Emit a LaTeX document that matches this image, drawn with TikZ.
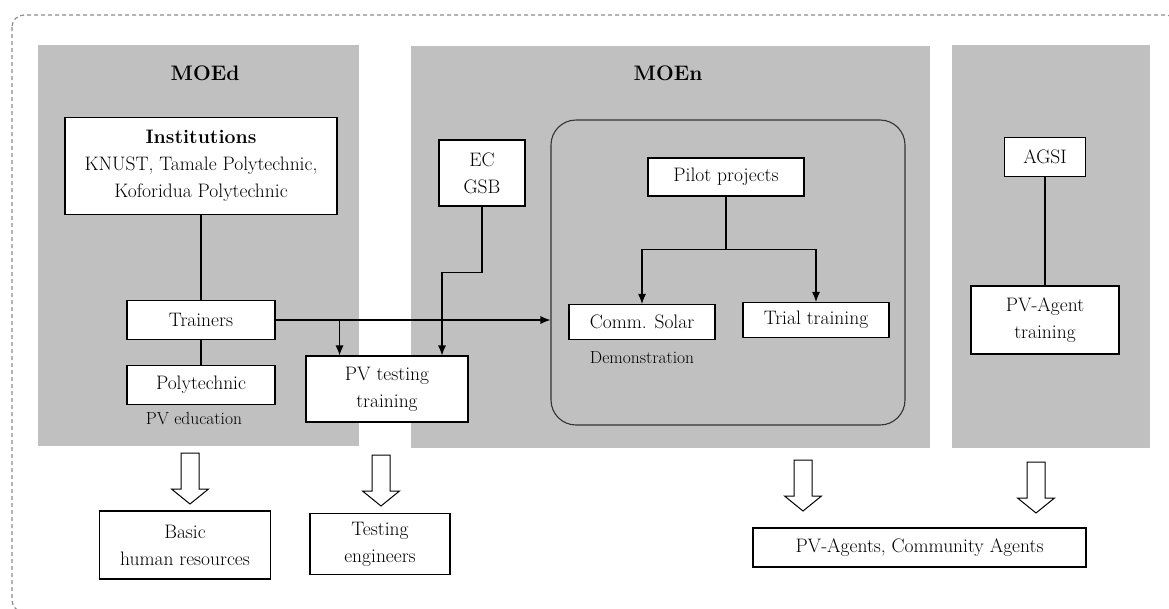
\documentclass[tikz,border=0pt]{standalone}
\usetikzlibrary{arrows.meta,positioning}
\definecolor{panelgray}{RGB}{192,192,192}
\tikzset{
  box/.style={draw, fill=white, line width=1.1pt, align=center, inner sep=0pt, font=\fontsize{19.5}{27}\selectfont},
  note/.style={inner sep=0pt, font=\fontsize{17.5}{20}\selectfont},
  paneltitle/.style={font=\fontsize{21}{25}\selectfont\bfseries},
  link/.style={line width=1.1pt},
  arr/.style={line width=1.1pt, -{Latex[length=10pt,width=8pt]}},
  hollow/.pic={\draw[line width=1pt, fill=white] (0,0) -- (18.5,-15) -- (9,-15) -- (9,-51) -- (-9,-51) -- (-9,-15) -- (-18.5,-15) -- cycle;}
}
\begin{document}
\begin{tikzpicture}[x=1pt,y=-1pt]
  \useasboundingbox (0,0) rectangle (1169,608);
  \clip (0,0) rectangle (1169,608);
  % 外框
  \draw[gray!90, line width=1.2pt, dash pattern=on 4pt off 3pt, rounded corners=12pt] (12,15) rectangle (1178,612);

  % 背景
  \fill[panelgray] (38,45) rectangle (359,446);
  \fill[panelgray] (411,46) rectangle (930,448);
  \fill[panelgray] (952,45) rectangle (1150,448);
  \node[paneltitle] (moed) at (205,73) {MOEd};
  \node[paneltitle] (moen) at (668,73) {MOEn};
  \node[draw=black!80, line width=1.1pt, rounded corners=25pt, minimum width=354pt, minimum height=305pt, inner sep=0pt] (pilotbox) at (728,272.5) {};

  % 节点
  \node[box, minimum width=272pt, minimum height=97pt] (inst) at (201,166) {\textbf{Institutions}\\KNUST, Tamale Polytechnic,\\Koforidua Polytechnic};
  \node[box, minimum width=148pt, minimum height=39pt] (trainers) at (201,320) {Trainers};
  \node[box, minimum width=148pt, minimum height=39pt, below=25pt of trainers] (poly) {Polytechnic};
  \node[note, below=7pt of poly, xshift=-7pt] (pvedu) {PV education};
  \node[box, minimum width=162pt, minimum height=66pt] (test) at (387,389) {PV testing\\training};
  \node[box, minimum width=86pt, minimum height=66pt] (ec) at (482,173) {EC\\GSB};
  \node[box, minimum width=156pt, minimum height=38pt] (pilot) at (726,177) {Pilot projects};
  \node[box, minimum width=146pt, minimum height=35pt] (comm) at (642,322) {Comm. Solar};
  \node[note, below=11pt of comm] (demo) {Demonstration};
  \node[box, minimum width=146pt, minimum height=35pt] (trial) at (816,320) {Trial training};
  \node[box, minimum width=81pt, minimum height=39pt] (agsi) at (1045,157) {AGSI};
  \node[box, minimum width=148pt, minimum height=68pt] (pvagent) at (1045,320) {PV-Agent\\training};
  \node[box, minimum width=171pt, minimum height=68pt] (basic) at (185,545) {Basic\\human resources};
  \node[box, minimum width=140pt, minimum height=61pt] (testeng) at (380,544) {Testing\\engineers};
  \node[box, minimum width=333pt, minimum height=39pt] (agents) at (919.5,547.5) {PV-Agents, Community Agents};

  % 连线
  \draw[link] (inst) -- (trainers);
  \draw[link] (trainers) -- (poly);
  \draw[arr] (trainers.east) -- (trainers.east -| pilotbox.west);
  \coordinate (split) at ([xshift=64pt]trainers.east);
  \draw[arr] (split) -- (split |- test.north);
  \draw[arr] (ec.south) -- ++(0,66) -| ([xshift=55pt]test.north);
  \draw[arr] (pilot.south) -- ++(0,53) -| (comm.north);
  \draw[arr] (pilot.south) -- ++(0,53) -| (trial.north);
  \draw[link] (agsi) -- (pvagent);

  % 空心箭头
  \pic at (190,504) {hollow};
  \pic at (381,506) {hollow};
  \pic at (803,511) {hollow};
  \pic at (1036,513) {hollow};
\end{tikzpicture}
\end{document}
